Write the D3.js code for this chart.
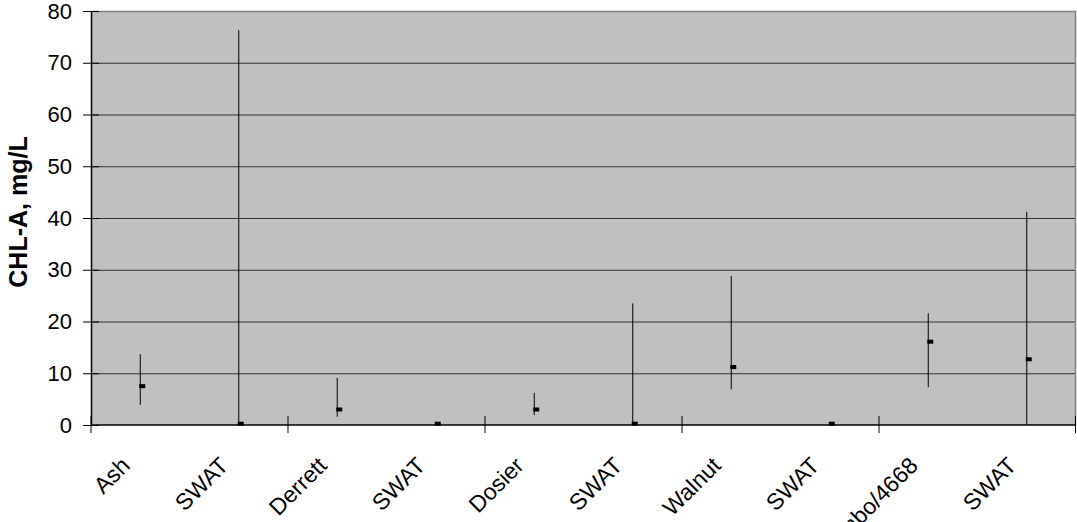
<!DOCTYPE html>
<html>
<head>
<meta charset="utf-8">
<script src="https://cdn.jsdelivr.net/npm/d3@7"></script>
<style>
  body { margin: 0; background: #fff; }
  svg { display: block; font-family: Arial, "Liberation Sans", sans-serif; }
</style>
</head>
<body>
<div id="chart"></div>
<script>
// category labels and high / low / close values
var categories = ["Ash", "SWAT", "Derrett", "SWAT", "Dosier", "SWAT", "Walnut", "SWAT", "Jumbo/4668", "SWAT"];
var highs  = [13.7, 76.3, 9.1, 0.3, 6.2, 23.5, 28.8, 0.3, 21.6, 41.2];
var lows   = [3.9, 0, 1.6, 0.2, 1.9, 0, 6.9, 0.2, 7.3, 0];
var closes = [7.5, 0.25, 3.0, 0.25, 3.0, 0.25, 11.2, 0.25, 16.1, 12.7];
var yTicks = [0, 10, 20, 30, 40, 50, 60, 70, 80];

var W = 1077, H = 522;
var margin = {top: 11, right: 1, bottom: 97, left: 91},
    width = W - margin.left - margin.right,
    height = H - margin.top - margin.bottom;

var data = categories.map(function(c, i) {
  return {i: i, name: c, high: highs[i], low: lows[i], close: closes[i]};
});

var x = d3.scaleBand().domain(d3.range(categories.length)).range([0, width]).padding(0);
var y = d3.scaleLinear().domain([0, 80]).range([height, 0]);

var svg = d3.select("#chart").append("svg")
    .attr("width", W)
    .attr("height", H);

var g = svg.append("g")
    .attr("transform", "translate(" + margin.left + "," + margin.top + ")");

// plot background
g.append("rect")
    .attr("width", width)
    .attr("height", height)
    .attr("fill", "#c0c0c0");

// gridlines
g.selectAll(".grid")
    .data(yTicks.filter(function(d) { return d > 0 && d < 80; }))
    .enter().append("line")
    .attr("x1", 0).attr("x2", width)
    .attr("y1", function(d) { return y(d) + 0.5; })
    .attr("y2", function(d) { return y(d) + 0.5; })
    .attr("stroke", "#333")
    .attr("stroke-width", 1);

// top & right border
g.append("path")
    .attr("d", "M0," + 0.5 + "H" + (width - 0.5) + "V" + height)
    .attr("fill", "none")
    .attr("stroke", "#808080")
    .attr("stroke-width", 1.5);

// high-low lines
g.selectAll(".hl")
    .data(data)
    .enter().append("line")
    .attr("x1", function(d) { return x(d.i) + x.bandwidth() / 2; })
    .attr("x2", function(d) { return x(d.i) + x.bandwidth() / 2; })
    .attr("y1", function(d) { return y(d.high); })
    .attr("y2", function(d) { return y(d.low); })
    .attr("stroke", "#000")
    .attr("stroke-width", 1);

// close markers
g.selectAll(".close")
    .data(data)
    .enter().append("rect")
    .attr("x", function(d) { return x(d.i) + x.bandwidth() / 2 - 1; })
    .attr("y", function(d) { return y(d.close) - 2; })
    .attr("width", 6)
    .attr("height", 4)
    .attr("fill", "#000");

// y axis
var yAxis = g.append("g")
    .call(d3.axisLeft(y).tickValues(yTicks).tickSizeInner(8).tickSizeOuter(0).tickPadding(11));
yAxis.select(".domain").attr("stroke", "#000").attr("stroke-width", 1.5);
yAxis.selectAll(".tick line").attr("x2", 8).attr("x1", -8).attr("stroke", "#000");
yAxis.selectAll(".tick text")
    .attr("font-size", "22px")
    .attr("fill", "#000")
    .attr("font-family", "Arial, 'Liberation Sans', sans-serif");

// x axis line
g.append("line")
    .attr("x1", 0).attr("x2", width)
    .attr("y1", height).attr("y2", height)
    .attr("stroke", "#000")
    .attr("stroke-width", 1.5);

// x tick marks every two categories
var xTickPos = d3.range(0, categories.length + 1, 2).map(function(i) {
  return i < categories.length ? x(i) : width;
});
g.selectAll(".xtick")
    .data(xTickPos)
    .enter().append("line")
    .attr("x1", function(d) { return Math.min(d, width - 0.5); })
    .attr("x2", function(d) { return Math.min(d, width - 0.5); })
    .attr("y1", height - 9)
    .attr("y2", height + 8)
    .attr("stroke", "#000");

// rotated category labels
g.selectAll(".xlabel")
    .data(data)
    .enter().append("text")
    .attr("transform", function(d) {
      return "translate(" + (x(d.i) + x.bandwidth() / 2 - 9) + "," + (height + 42) + ") rotate(-45)";
    })
    .attr("text-anchor", "end")
    .attr("font-size", "23px")
    .text(function(d) { return d.name; });

// y axis title
svg.append("text")
    .attr("transform", "translate(27," + (margin.top + height / 2 - 6) + ") rotate(-90)")
    .attr("text-anchor", "middle")
    .attr("font-size", "25px")
    .attr("font-weight", "bold")
    .text("CHL-A, mg/L");
</script>
</body>
</html>
